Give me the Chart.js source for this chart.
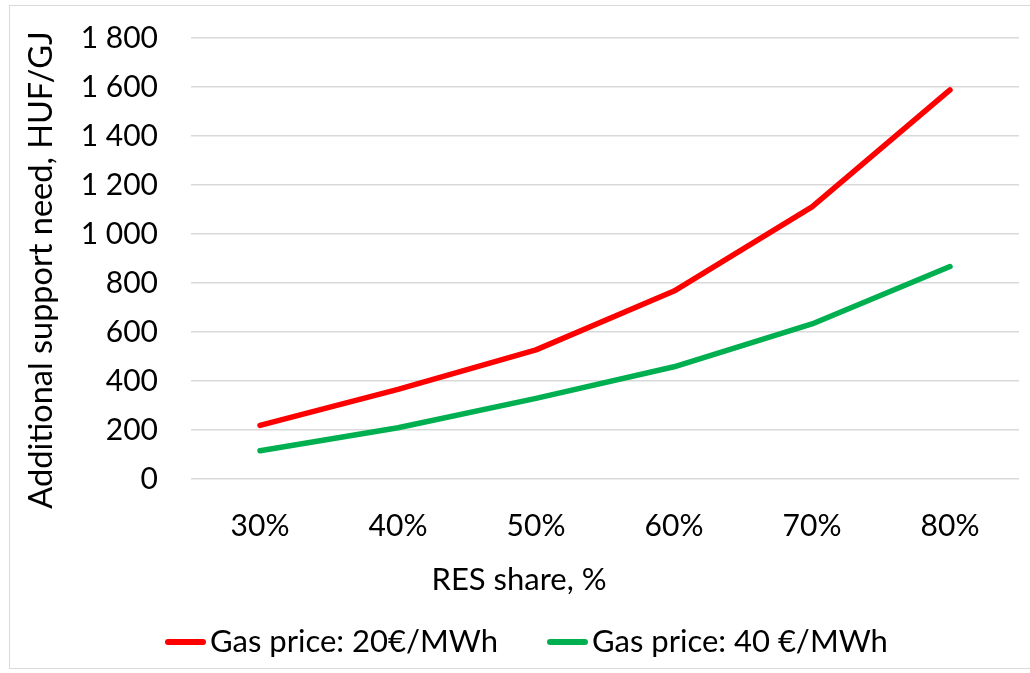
<!DOCTYPE html>
<html>
<head>
<meta charset="utf-8">
<script src="https://cdn.jsdelivr.net/npm/chart.js@4.4.1/dist/chart.umd.min.js"></script>
<style>
  html, body { margin: 0; padding: 0; background: #ffffff; }
  #wrap { width: 1030px; height: 673px; position: relative; }
</style>
</head>
<body>
<div id="wrap"><canvas id="c" width="1030" height="673"></canvas></div>
<script>
// RES share categories
const categories = ['30%', '40%', '50%', '60%', '70%', '80%'];
// Additional support need (HUF/GJ) at two gas prices
const gas20 = [219, 366, 527, 767, 1111, 1588];
const gas40 = [115, 209, 329, 458, 633, 867];
const seriesNames = ['Gas price: 20€/MWh', 'Gas price: 40 €/MWh'];
const yTitle = 'Additional support need, HUF/GJ';
const xTitle = 'RES share, %';

const FONT = 'Lato, "Open Sans", sans-serif';
const FS = 30;

// thousands with a space: 1 800
function fmt(v) {
  return String(v).replace(/\B(?=(\d{3})+(?!\d))/g, ' ');
}

// outer frame, axis titles and the legend row
const decor = {
  id: 'decor',
  afterDraw(chart) {
    const ctx = chart.ctx;
    ctx.save();
    ctx.strokeStyle = '#d9d9d9';
    ctx.lineWidth = 1;
    ctx.strokeRect(9.5, 5.5, 1030, 663);

    ctx.fillStyle = '#000000';
    ctx.textAlign = 'center';
    ctx.textBaseline = 'middle';
    ctx.font = '31px ' + FONT;
    ctx.fillText(xTitle, 519, 580);

    ctx.save();
    ctx.font = '32.5px ' + FONT;
    ctx.translate(42, 270);
    ctx.rotate(-Math.PI / 2);
    ctx.fillText(yTitle, 0, 0);
    ctx.restore();

    // legend
    ctx.font = '31px ' + FONT;
    const starts = [165, 547];
    chart.data.datasets.forEach((ds, i) => {
      const x = starts[i], y = 642;
      ctx.strokeStyle = ds.borderColor;
      ctx.lineWidth = 6;
      ctx.lineCap = 'round';
      ctx.beginPath();
      ctx.moveTo(x + 3, y);
      ctx.lineTo(x + 38, y);
      ctx.stroke();
      ctx.textAlign = 'left';
      ctx.fillStyle = '#000000';
      ctx.fillText(ds.label, x + 45, y);
    });
    ctx.restore();
  }
};

new Chart(document.getElementById('c'), {
  type: 'line',
  data: {
    labels: categories,
    datasets: [
      { label: seriesNames[0], data: gas20, borderColor: '#ff0000', backgroundColor: '#ff0000' },
      { label: seriesNames[1], data: gas40, borderColor: '#00b050', backgroundColor: '#00b050' }
    ]
  },
  options: {
    responsive: false,
    animation: false,
    layout: { padding: { left: 0, top: 38, right: 11, bottom: 0 } },
    elements: {
      line: { borderWidth: 5.5, tension: 0, borderCapStyle: 'round', borderJoinStyle: 'round' },
      point: { radius: 0, hoverRadius: 0 }
    },
    plugins: {
      legend: { display: false },
      tooltip: { enabled: false }
    },
    scales: {
      x: {
        offset: true,
        grid: { display: false, drawTicks: false },
        border: { display: false },
        ticks: { color: '#000000', font: { family: FONT, size: FS }, padding: 29, maxRotation: 0 },
        afterFit(s) { s.height = 194; }
      },
      y: {
        min: 0, max: 1800,
        grid: { color: '#d9d9d9', lineWidth: 1.5, drawTicks: false },
        border: { display: false },
        ticks: {
          stepSize: 200, color: '#000000', padding: 33,
          font: { family: FONT, size: FS },
          callback: (v) => fmt(v)
        },
        afterFit(s) { s.width = 191; s.paddingTop = 0; s.paddingBottom = 0; }
      }
    }
  },
  plugins: [decor]
});
</script>
</body>
</html>
